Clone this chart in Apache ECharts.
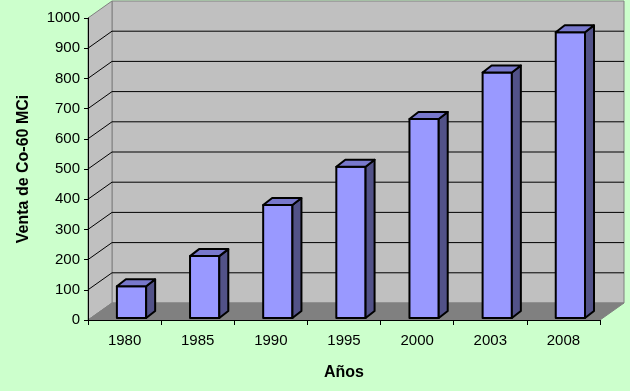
<!DOCTYPE html>
<html>
<head>
<meta charset="utf-8">
<script src="https://cdn.jsdelivr.net/npm/echarts@6/dist/echarts.min.js"></script>
<style>html,body{margin:0;padding:0;background:#CCFFCC;}#c{width:630px;height:391px;}</style>
</head>
<body>
<div id="c"></div>
<script>
var categories = ['1980', '1985', '1990', '1995', '2000', '2003', '2008'];
var ventas = [105, 205, 374, 501, 659, 813, 946];
var yTicks = [0, 100, 200, 300, 400, 500, 600, 700, 800, 900, 1000];

var FONT = '"Liberation Sans", Arial, sans-serif';
var DX = 24, DY = -17;      // wall depth offset (px)
var BDX = 9, BDY = -7;      // bar depth offset (px)

var chart = echarts.init(document.getElementById('c'), null, {renderer: 'canvas'});

function wallsRender(params, api) {
  var cs = params.coordSys;
  var x0 = cs.x, x1 = cs.x + cs.width, yTop = cs.y, y0 = cs.y + cs.height;
  var children = [];
  children.push({type: 'polygon', shape: {points: [[x0+DX, yTop+DY], [x1+DX, yTop+DY], [x1+DX, y0+DY], [x0+DX, y0+DY]]},
    style: {fill: '#C0C0C0', stroke: '#808080', lineWidth: 1}});
  children.push({type: 'polygon', shape: {points: [[x0, y0], [x0, yTop], [x0+DX, yTop+DY], [x0+DX, y0+DY]]},
    style: {fill: '#C0C0C0', stroke: '#808080', lineWidth: 1}});
  for (var i = 0; i < yTicks.length; i++) {
    var v = yTicks[i];
    if (v === yTicks[0] || v === yTicks[yTicks.length - 1]) continue;
    var y = api.coord([0, v])[1];
    children.push({type: 'polyline', shape: {points: [[x0, y], [x0+DX, y+DY], [x1+DX, y+DY]]},
      style: {stroke: '#000', lineWidth: 1, fill: null}});
  }
  children.push({type: 'polygon', shape: {points: [[x0, y0], [x1, y0], [x1+DX, y0+DY], [x0+DX, y0+DY]]},
    style: {fill: '#808080', stroke: '#808080', lineWidth: 1}});
  return {type: 'group', children: children};
}

function barRender(params, api) {
  var idx = api.value(0), val = api.value(1);
  var p0 = api.coord([idx, 0]);
  var p1 = api.coord([idx, val]);
  var bw = api.size([1, 0])[0];
  var fw = bw * 0.40;
  var cx = p0[0] + bw * 0.095;
  var xl = cx - fw / 2, xr = cx + fw / 2;
  var yb = p0[1] - 2, yt = p1[1] - 2;
  var st = {stroke: '#000', lineWidth: 2, lineJoin: 'round'};
  return {type: 'group', children: [
    {type: 'polygon', shape: {points: [[xl, yb], [xr, yb], [xr, yt], [xl, yt]]},
      style: Object.assign({fill: '#9999FF'}, st)},
    {type: 'polygon', shape: {points: [[xr, yb], [xr, yt], [xr+BDX, yt+BDY], [xr+BDX, yb+BDY]]},
      style: Object.assign({fill: '#525288'}, st)},
    {type: 'polygon', shape: {points: [[xl, yt], [xr, yt], [xr+BDX, yt+BDY], [xl+BDX, yt+BDY]]},
      style: Object.assign({fill: '#7878CC'}, st)}
  ]};
}

chart.setOption({
  animation: false,
  backgroundColor: '#CCFFCC',
  grid: {left: 88, top: 18, width: 512, height: 302, containLabel: false},
  xAxis: {
    type: 'category', data: categories, z: 5,
    name: 'Años', nameLocation: 'middle', nameGap: 45,
    nameTextStyle: {fontFamily: FONT, fontSize: 16, fontWeight: 'bold', color: '#000'},
    axisLine: {lineStyle: {color: '#000', width: 1}},
    axisTick: {show: true, length: 5, alignWithLabel: false, lineStyle: {color: '#000'}},
    axisLabel: {fontFamily: FONT, fontSize: 15, color: '#000', margin: 13},
    splitLine: {show: false}
  },
  yAxis: {
    type: 'value', min: 0, max: 1000, interval: 100, z: 5,
    name: 'Venta de Co-60 MCi', nameLocation: 'middle', nameGap: 56,
    nameTextStyle: {fontFamily: FONT, fontSize: 16, fontWeight: 'bold', color: '#000'},
    axisLine: {show: true, lineStyle: {color: '#000', width: 1}},
    axisTick: {show: true, length: 4, lineStyle: {color: '#000'}},
    axisLabel: {fontFamily: FONT, fontSize: 15, color: '#000', margin: 8,
      formatter: function (v) { return String(v); }},
    splitLine: {show: false}
  },
  series: [
    {type: 'custom', z: 1, silent: true, renderItem: wallsRender, data: [[0, 0]], clip: false},
    {type: 'custom', z: 2, renderItem: barRender, clip: false,
      data: ventas.map(function (v, i) { return [i, v]; })}
  ]
});
</script>
</body>
</html>
